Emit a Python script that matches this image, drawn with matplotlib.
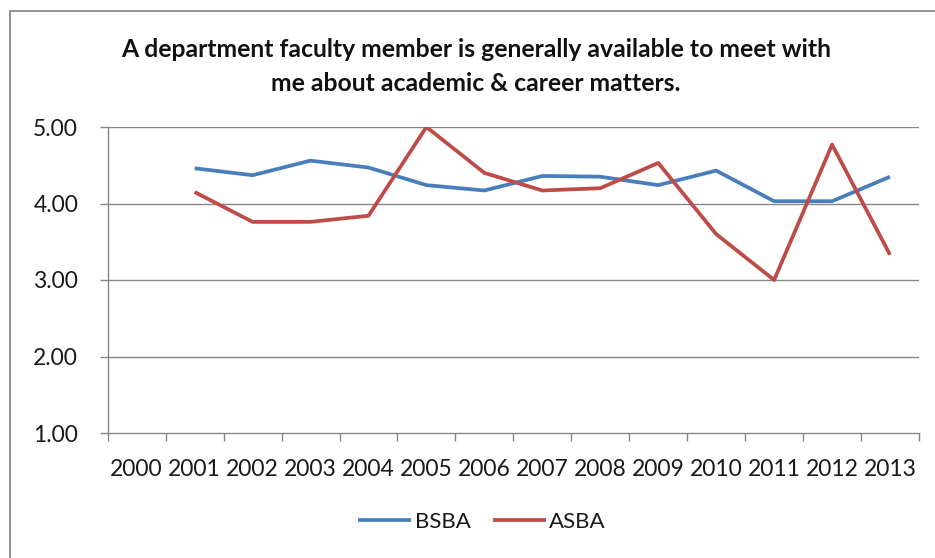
import matplotlib
matplotlib.use("Agg")
import matplotlib.pyplot as plt
from matplotlib.patches import Rectangle
import numpy as np

years = ["2000", "2001", "2002", "2003", "2004", "2005", "2006", "2007",
         "2008", "2009", "2010", "2011", "2012", "2013"]
bsba = [np.nan, 4.46, 4.37, 4.56, 4.47, 4.24, 4.17, 4.36, 4.35, 4.24, 4.43, 4.03, 4.03, 4.35]
asba = [np.nan, 4.15, 3.76, 3.76, 3.84, 5.00, 4.40, 4.17, 4.20, 4.53, 3.60, 3.00, 4.77, 3.33]
yticks = [1.0, 2.0, 3.0, 4.0, 5.0]
title = "A department faculty member is generally available to meet with\nme about academic & career matters."

FONT = ["Lato", "DejaVu Sans"]
plt.rcParams['font.family'] = FONT

W, H = 935, 558
fig = plt.figure(figsize=(W / 100, H / 100), dpi=100)
fig.patch.set_facecolor("white")

# outer chart border
fig.patches.append(Rectangle((9.5 / W, -0.1), 1.2, 1.1 - 11.5 / H, transform=fig.transFigure,
                             fill=False, edgecolor="#8a8a8a", linewidth=1.3))

ax = fig.add_axes([107.7 / W, 1 - 433 / H, (919 - 107.7) / W, (433 - 127) / H])
x = np.arange(len(years))
grid_c = "#878787"
ax.plot(x, bsba, color="#4A7EBB", linewidth=2.7, label="BSBA", solid_capstyle="butt")
ax.plot(x, asba, color="#BE4B48", linewidth=2.7, label="ASBA", solid_capstyle="butt")

ax.set_xlim(-0.5, len(years) - 0.5)
ax.set_ylim(1.0, 5.0)
ax.set_yticks(yticks)
ax.set_yticklabels([f"{v:.2f}" for v in yticks])
ax.set_xticks(x)
ax.set_xticklabels(years)
ax.set_xticks(np.arange(-0.5, len(years), 1.0), minor=True)

for v in yticks[1:]:
    ax.axhline(v, color=grid_c, linewidth=1.0, zorder=0)

for s in ["top", "right"]:
    ax.spines[s].set_visible(False)
for s in ["left", "bottom"]:
    ax.spines[s].set_color(grid_c)
    ax.spines[s].set_linewidth(1.0)

ax.tick_params(axis="x", which="major", length=0, pad=19, labelsize=16.5, labelcolor="#1a1a1a")
ax.tick_params(axis="x", which="minor", length=6, width=1.0, color=grid_c, direction="out")
ax.tick_params(axis="y", which="major", length=5.8, width=1.0, color=grid_c, pad=15.5,
               labelsize=16.5, labelcolor="#1a1a1a")

fig.text(476 / W, 1 - 38 / H, title, ha="center", va="top", fontsize=17.8,
         fontweight="bold", color="#111111", linespacing=1.6)

leg = fig.legend(loc="center", bbox_to_anchor=(482 / W, 1 - 522 / H), ncol=2, frameon=False,
                 fontsize=16, handlelength=2.4, handletextpad=0.15, columnspacing=1.0)
for t in leg.get_texts():
    t.set_color("#1a1a1a")

fig.savefig("out.png", dpi=100, facecolor="white")
